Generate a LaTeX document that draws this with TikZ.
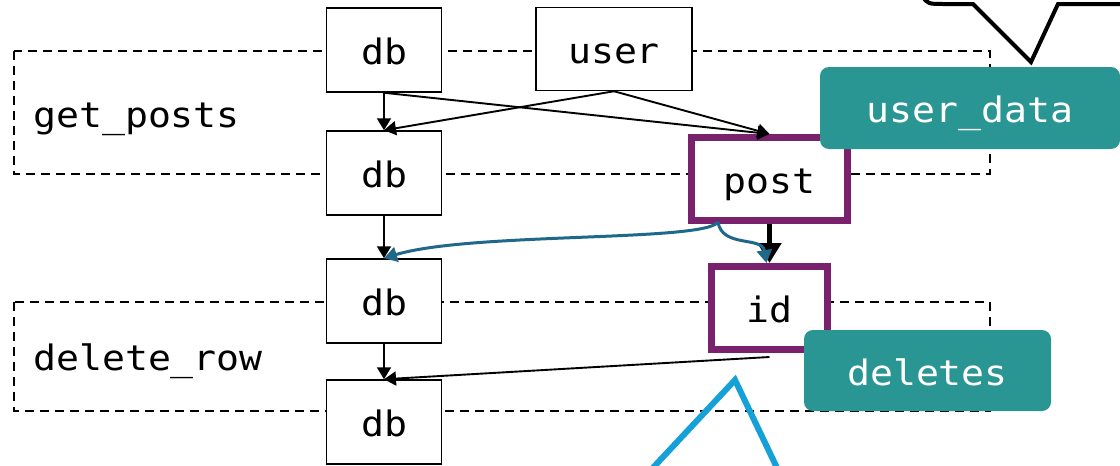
\documentclass[tikz,border=0pt]{standalone}
\usepackage{fontspec}
\newfontfamily\codefont{DejaVu Sans Mono}[FakeStretch=1.09]
\usetikzlibrary{arrows.meta}
\definecolor{frameviolet}{RGB}{122,33,110}
\definecolor{tagteal}{RGB}{42,150,148}
\definecolor{flowblue}{RGB}{31,104,138}
\definecolor{markblue}{RGB}{22,160,216}
\tikzset{
  codetext/.style={font=\codefont\fontsize{35}{40}\selectfont},
  boxtext/.style={codetext, text height=29pt, text depth=0pt},
  valbox/.style={boxtext, draw=black, line width=1.5pt, fill=white,
    inner sep=0pt, minimum height=84pt},
  hotbox/.style={boxtext, draw=frameviolet, line width=7pt, fill=white,
    inner sep=0pt, minimum height=83pt},
  tagbox/.style={boxtext, text=white, fill=tagteal, rounded corners=9pt,
    inner sep=0pt},
  scopebox/.style={draw=black, line width=1.5pt, dash pattern=on 9pt off 6pt},
  flow/.style={draw=black, line width=1.9pt, -{Triangle[length=12pt,width=14pt]}},
  bigflow/.style={draw=black, line width=5pt, -{Triangle[length=20pt,width=23pt]}},
  bluflow/.style={draw=flowblue, line width=3pt, -{Triangle[length=13pt,width=15pt]}},
}
\begin{document}
\begin{tikzpicture}[x=1pt, y=-1pt]
\useasboundingbox (0,0) rectangle (1120,466);

% function scopes
\draw[scopebox] (14,51) rectangle (990,174);
\draw[scopebox] (14,302) rectangle (990,411);
\node[codetext, anchor=base west, inner sep=0pt] (fget) at (33,127) {get\_posts};
\node[codetext, anchor=base west, inner sep=0pt] (fdel) at (33,370) {delete\_row};

% values
\node[valbox, minimum width=115pt] (db1) at (384,50) {db};
\node[valbox, minimum width=156pt, minimum height=83pt] (user) at (614,49) {user};
\node[valbox, minimum width=115pt] (db2) at (384,173) {db};
\node[valbox, minimum width=115pt] (db3) at (384,301) {db};
\node[valbox, minimum width=115pt] (db4) at (384,422) {db};
\node[hotbox, minimum width=156pt] (post) at (769.5,179) {post};
\node[hotbox, minimum width=116pt] (id) at (769.5,308) {id};

% data flow
\coordinate (bsrc) at (718,222);
\draw[flow] (db1.south) -- (db2.north);
\draw[flow] (db1.south) -- (post.north);
\draw[flow] (user.south) -- (db2.north);
\draw[flow] (user.south) -- (post.north);
\draw[flow] (db2.south) -- (db3.north);
\draw[flow] (db3.south) -- (db4.north);
\draw[bigflow] (post.south) -- (id.north);
\draw[bluflow] (bsrc) .. controls (705,242) and (470,232) .. (db3.north);
\draw[bluflow] (bsrc) .. controls (722,248) and (762,236) .. ([xshift=-3pt]id.north);
\draw[flow] ([yshift=-4pt]id.south) -- (db4.north);

% tags
\node[tagbox, minimum width=300pt, minimum height=82pt] (udata) at (970,108) {user\_data};
\node[tagbox, minimum width=247pt, minimum height=81pt] (dels) at (927.5,370.5) {deletes};

% callout pointer above
\draw[line width=4pt, line join=miter] (922,-4) .. controls (928,4) .. (944,4)
  -- (973,4) -- (1031,62) -- (1058,4) -- (1126,4);

% marker below
\draw[markblue, line width=6pt, line join=miter] (649,472) -- (735,380) -- (779,472);
\end{tikzpicture}
\end{document}
